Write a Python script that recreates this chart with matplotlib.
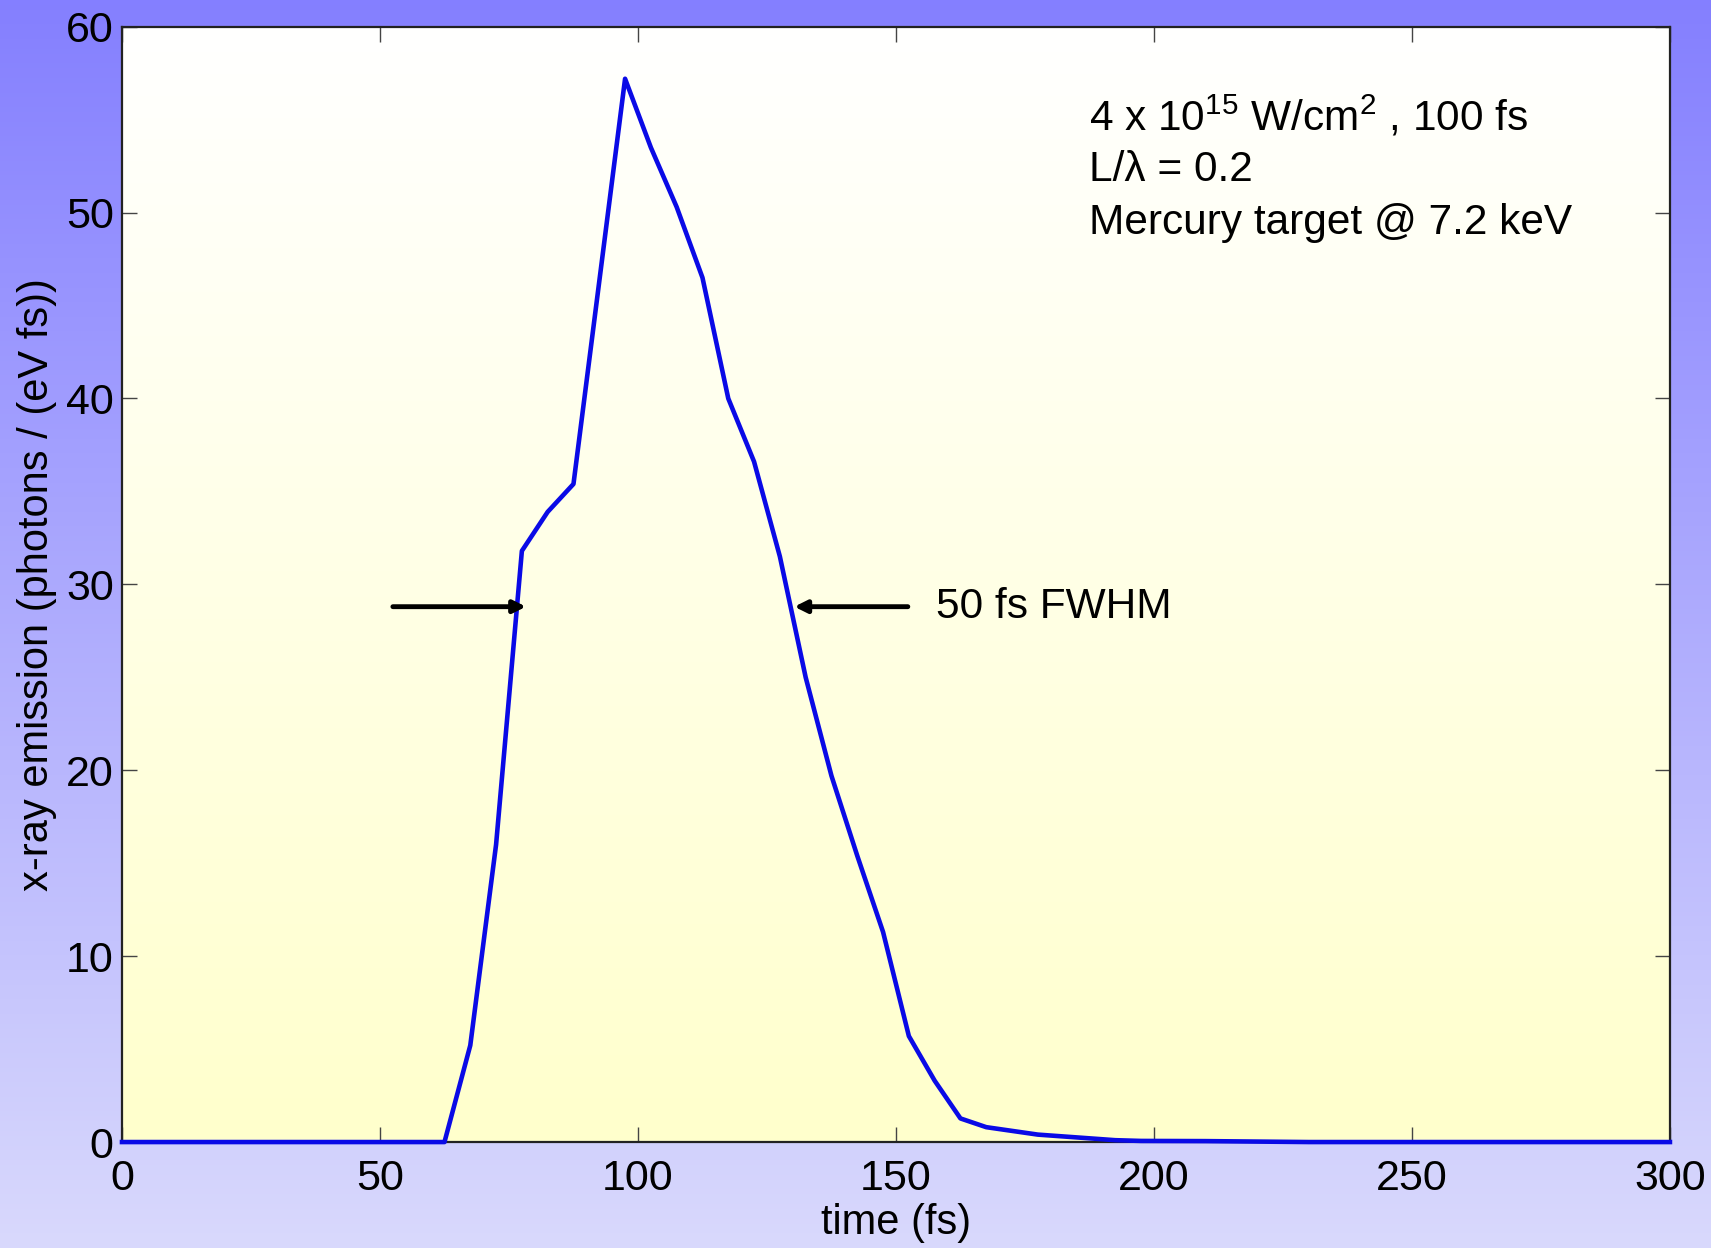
import numpy as np
import matplotlib.pyplot as plt

plt.rcParams['font.family'] = ['Liberation Sans', 'DejaVu Sans']
plt.rcParams['mathtext.fontset'] = 'custom'
plt.rcParams['mathtext.rm'] = 'Liberation Sans'
plt.rcParams['mathtext.default'] = 'regular'

# x-ray emission vs time
t = [0, 62.5, 67.5, 72.5, 77.5, 82.5, 87.5, 92.5, 97.5, 102.5, 107.5, 112.5,
     117.5, 122.5, 127.5, 132.5, 137.5, 142.5, 147.5, 152.5, 157.5, 162.5,
     167.5, 172.5, 177.5, 182.5, 187.5, 192.5, 197.5, 210, 230, 300]
emis = [0, 0, 5.2, 16.0, 31.8, 33.9, 35.4, 46.3, 57.2, 53.5, 50.3, 46.5,
        40.0, 36.6, 31.5, 25.0, 19.7, 15.4, 11.3, 5.7, 3.3, 1.27,
        0.8, 0.6, 0.4, 0.3, 0.2, 0.1, 0.06, 0.05, 0.0, 0.0]

xticks = [0, 50, 100, 150, 200, 250, 300]
yticks = [0, 10, 20, 30, 40, 50, 60]

fwhm_y = 28.8
left_arrow = (52.5, 78.3)
right_arrow = (152.3, 130.3)

notes = ['4 x 10$^{15}$ W/cm$^{2}$ , 100 fs', 'L/λ = 0.2', 'Mercury target @ 7.2 keV']

fig = plt.figure(figsize=(17.11, 12.48), dpi=100)

# background gradient (blue at top, pale lavender at bottom)
bg = fig.add_axes([0, 0, 1, 1], zorder=-10)
g = np.linspace(0, 1, 256).reshape(-1, 1)
top_c = np.array([0.52, 0.50, 1.0])
bot_c = np.array([0.85, 0.85, 0.99])
bg.imshow(top_c * (1 - g[:, :, None]) + bot_c * g[:, :, None], aspect='auto',
          extent=[0, 1, 0, 1])
bg.axis('off')

ax = fig.add_axes([0.0713, 0.0849, 0.9047, 0.8937])
# white to light yellow inside the axes
top_a = np.array([1.0, 1.0, 1.0])
bot_a = np.array([1.0, 1.0, 0.80])
ax.imshow(top_a * (1 - g[:, :, None]) + bot_a * g[:, :, None], aspect='auto',
          extent=[0, 300, 0, 60], zorder=0)

ax.plot(t, emis, color='#0a0ae6', lw=3.3, zorder=3, clip_on=False)

ax.annotate('', xy=(left_arrow[1], fwhm_y), xytext=(left_arrow[0], fwhm_y),
            arrowprops=dict(arrowstyle='-|>', color='black', lw=3.5,
                            mutation_scale=18, shrinkA=0, shrinkB=0), zorder=4)
ax.annotate('', xy=(right_arrow[1], fwhm_y), xytext=(right_arrow[0], fwhm_y),
            arrowprops=dict(arrowstyle='-|>', color='black', lw=3.5,
                            mutation_scale=18, shrinkA=0, shrinkB=0), zorder=4)
ax.text(157.8, fwhm_y, '50 fs FWHM', fontsize=30.5, va='center', ha='left')

for i, s in enumerate(notes):
    ax.text(187.4, 55.15 - 2.86 * i, s, fontsize=30.5, va='center', ha='left')

ax.set_xlim(0, 300)
ax.set_ylim(0, 60)
ax.set_xticks(xticks)
ax.set_yticks(yticks)
ax.tick_params(direction='in', length=11, width=1, colors='#444444',
               labelcolor='black', labelsize=31, top=True, right=True)
ax.tick_params(axis='x', pad=12)
ax.tick_params(axis='y', pad=6)
for sp in ax.spines.values():
    sp.set_color('#222222')
    sp.set_linewidth(1.6)

ax.set_xlabel('time (fs)', fontsize=30, labelpad=3)
ax.set_ylabel('x-ray emission (photons / (eV fs))', fontsize=30, labelpad=6)

fig.savefig('out.png', dpi=100)
